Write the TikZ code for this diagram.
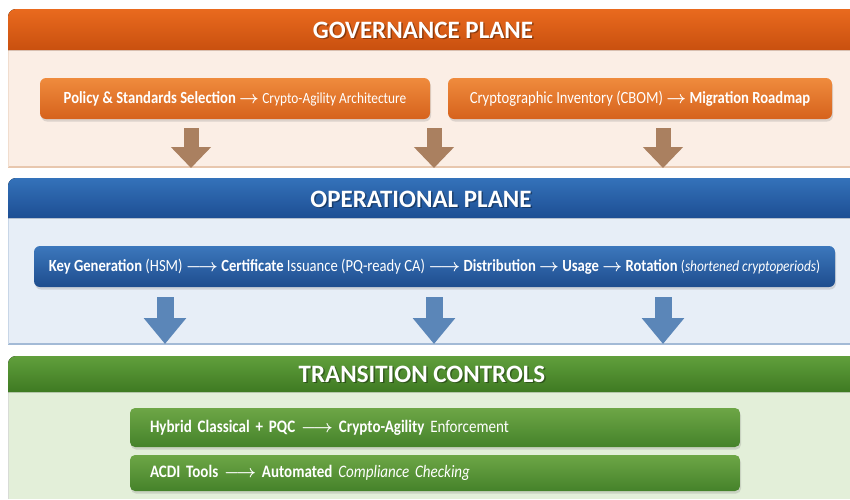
\documentclass[tikz,border=0pt]{standalone}
\usepackage{amsmath}
\usepackage{fontspec}
\setmainfont{Carlito}[FakeStretch=0.86]
\newfontfamily\headfont{Carlito}
\usetikzlibrary{positioning}
\usetikzlibrary{shadows}
\usetikzlibrary{arrows.meta}

% plane colours
\definecolor{govtop}{HTML}{E96A1E}
\definecolor{govbot}{HTML}{C9500F}
\definecolor{govbg}{HTML}{FBEEE5}
\definecolor{govline}{HTML}{E8C7AE}
\definecolor{govboxtop}{HTML}{EF8B3D}
\definecolor{govboxbot}{HTML}{D6621C}
\definecolor{govarrow}{HTML}{AA8060}
\definecolor{optop}{HTML}{3472BA}
\definecolor{opbot}{HTML}{1D4E93}
\definecolor{opbg}{HTML}{E7EEF7}
\definecolor{opline}{HTML}{A3BAD6}
\definecolor{opboxtop}{HTML}{3C77BC}
\definecolor{opboxbot}{HTML}{1E4D8E}
\definecolor{oparrow}{HTML}{5B86B8}
\definecolor{trtop}{HTML}{619F3C}
\definecolor{trbot}{HTML}{3E7A22}
\definecolor{trbg}{HTML}{E3EFD9}
\definecolor{trboxtop}{HTML}{6DA646}
\definecolor{trboxbot}{HTML}{45822A}

\newcommand{\ra}{\ensuremath{\boldsymbol{\rightarrow}}}
\newcommand{\lra}{\ensuremath{\boldsymbol{\longrightarrow}}}

\begin{document}
\begin{tikzpicture}[
  x=1pt, y=-1pt,
  headtext/.style={text=white, font=\headfont\bfseries\fontsize{25}{28}\selectfont},
  headshadow/.style={headtext, text=black, opacity=0.35},
  planebox/.style={rounded corners=6pt, text=white, inner sep=0pt,
    font=\fontsize{17}{20}\selectfont,
    drop shadow={opacity=0.25, shadow xshift=1pt, shadow yshift=-2.5pt}},
  govbox/.style={planebox, top color=govboxtop, bottom color=govboxbot, minimum height=41pt},
  opbox/.style={planebox, top color=opboxtop, bottom color=opboxbot, minimum height=41pt},
  trbox/.style={planebox, top color=trboxtop, bottom color=trboxbot, rounded corners=5pt,
    font=\fontsize{17.5}{20}\selectfont, text width=570pt, inner xsep=20pt, align=left},
  govflow/.style={draw=govarrow, line width=15pt, -{Triangle[width=39pt,length=21pt]}},
  opflow/.style={draw=oparrow, line width=17pt, -{Triangle[width=41pt,length=26pt]}}
]
  \useasboundingbox (0,0) rectangle (850,499);
  \clip (0,0) rectangle (850,499);

  % governance plane
  \fill[govbg] (8,50) rectangle (860,168);
  \draw[govline, line width=1.5pt] (8,167) -- (860,167);
  \draw[govline!60, line width=0.6pt] (8,50) -- (8,167);
  \fill[top color=govtop, bottom color=govbot] (8,50) [rounded corners=8pt] -- (8,9) -- (870,9) [sharp corners] -- (870,50) -- cycle;
  \node[headshadow] at (424.5,31.5) {GOVERNANCE PLANE};
  \node[headtext] (govhead) at (423,30) {GOVERNANCE PLANE};

  \node[govbox, minimum width=390pt] (policy) at (235,98.5)
    {\textbf{Policy \& Standards Selection} \ra{} {\fontsize{15.5}{18}\selectfont Crypto-Agility Architecture}};
  \node[govbox, minimum width=384pt] (inventory) at (640,98.5)
    {Cryptographic Inventory (CBOM) \ra{} \textbf{Migration Roadmap}};

  \coordinate (ga) at (191,128);
  \coordinate (gb) at (434,128);
  \coordinate (gc) at (663,128);
  \coordinate (ga') at (191,168);
  \coordinate (gb') at (434,168);
  \coordinate (gc') at (663,168);
  \foreach \s in {ga,gb,gc}
    \draw[govflow] (\s) -- (\s');

  % operational plane
  \fill[opbg] (8,218) rectangle (860,345);
  \draw[opline, line width=1.5pt] (8,344) -- (860,344);
  \draw[opline!60, line width=0.6pt] (8,218) -- (8,344);
  \fill[top color=optop, bottom color=opbot] (8,218) [rounded corners=8pt] -- (8,178) -- (870,178) [sharp corners] -- (870,218) -- cycle;
  \node[headshadow] at (422.5,200.5) {OPERATIONAL PLANE};
  \node[headtext] (ophead) at (421,199) {OPERATIONAL PLANE};

  \node[opbox, minimum width=801pt] (lifecycle) at (434.5,266.5)
    {\textbf{Key Generation} (HSM) \lra{} \textbf{Certificate} Issuance (PQ-ready CA) \lra{}
     \textbf{Distribution} \ra{} \textbf{Usage} \ra{} \textbf{Rotation}
     {\fontsize{15.5}{18}\selectfont(\textit{shortened cryptoperiods})}};

  \coordinate (oa) at (165,297);
  \coordinate (ob) at (434,297);
  \coordinate (oc) at (663,297);
  \coordinate (oa') at (165,344);
  \coordinate (ob') at (434,344);
  \coordinate (oc') at (663,344);
  \foreach \s in {oa,ob,oc}
    \draw[opflow] (\s) -- (\s');

  % transition controls
  \fill[trbg] (8,392) rectangle (860,499);
  \draw[trbg!70!black!40, line width=0.6pt] (8,392) -- (8,499);
  \fill[top color=trtop, bottom color=trbot] (8,392) [rounded corners=8pt] -- (8,356) -- (870,356) [sharp corners] -- (870,392) -- cycle;
  \node[headshadow] at (423.5,375.5) {TRANSITION CONTROLS};
  \node[headtext] (trhead) at (422,374) {TRANSITION CONTROLS};

  \node[trbox, minimum height=39pt] (hybrid) at (435,427.5)
    {\textbf{Hybrid Classical + PQC} \lra{} \textbf{Crypto-Agility} Enforcement};
  \node[trbox, minimum height=36pt] (acdi) at (435,473)
    {\textbf{ACDI Tools} \lra{} \textbf{Automated} \textit{Compliance Checking}};
\end{tikzpicture}
\end{document}
